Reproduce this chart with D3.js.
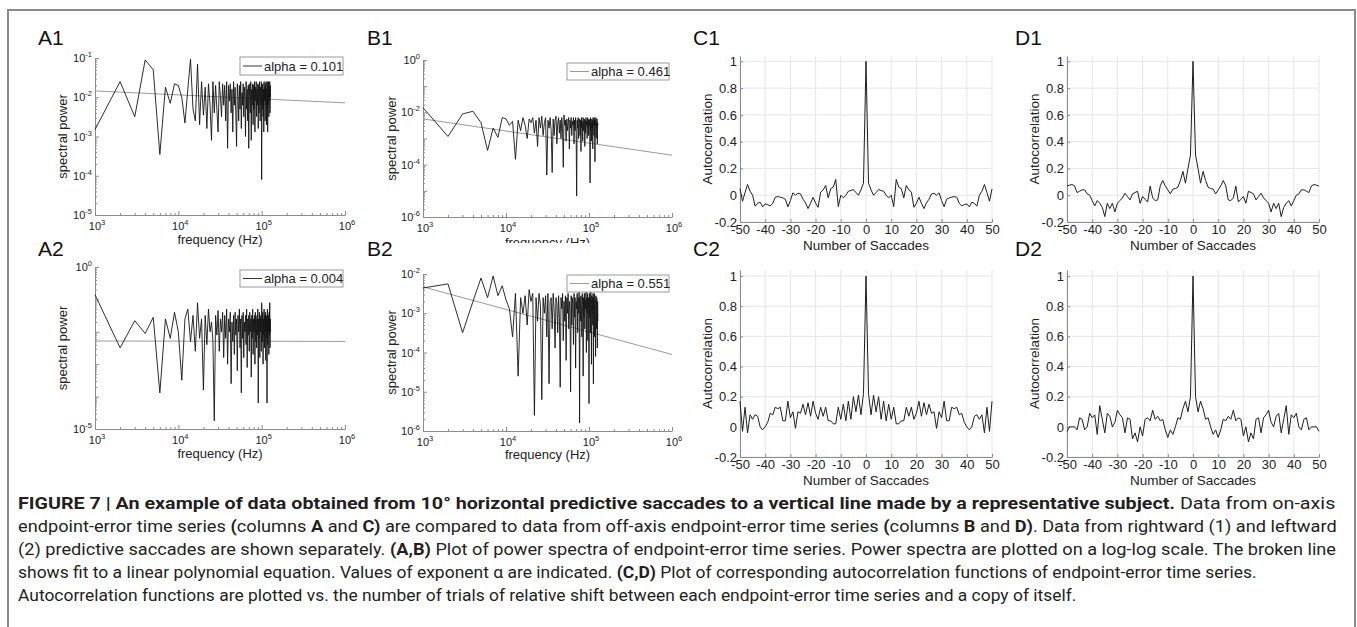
<!DOCTYPE html>
<html><head><meta charset="utf-8">
<script src="https://cdn.jsdelivr.net/npm/d3@7"></script>
<style>
body{margin:0;background:#fff}
svg{display:block}
text{font-family:"Liberation Sans",Arial,Helvetica,sans-serif}
</style>
</head><body>
<svg id="fig" width="1357" height="627"></svg>
<script>
// ---------------- DATA ----------------
const freqStepHz = 1000;          // spectral bin spacing
const nBins = 128;                // bins 1..128
const frequencies = d3.range(1, nBins + 1).map(k => k * freqStepHz);
const freqDomain = [1e3, 1e6];
const freqTicks = [1e3, 1e4, 1e5, 1e6];

const a1Power = [1.5e-3,2.5e-2,3.2e-3,8.9e-2,5e-2,3.5e-4,1.8e-2,7e-3,2.2e-2,2e-2,
 1e-2,2.2e-3,1.6e-2,9.3e-2,5e-3,2.5e-3,7e-2,2e-3,2.5e-2,3.5e-3,
 1.8e-2,1.6e-3,2.2e-2,6.3e-3,8e-4,2.5e-2,4e-3,2e-2,5e-3,1.3e-3,
 2.5e-2,1e-2,3.2e-3,2.2e-2,6.3e-3,2e-2,2.5e-3,2.5e-2,5e-4,2e-2,
 8e-3,2.2e-2,4e-3,1.6e-2,1.3e-3,2.5e-2,6.3e-3,1.8e-2,3.2e-3,5.6e-4,
 2.2e-2,1e-2,2.5e-3,2e-2,5e-3,2.5e-2,1.6e-3,1.3e-2,6.3e-3,2.2e-2,
 3.2e-3,1.8e-2,8e-3,1e-3,2.5e-2,5e-3,1.6e-2,2.5e-3,2e-2,5e-4,
 2.2e-2,1e-2,4e-3,2.5e-2,8e-4,1.6e-2,6.3e-3,2.2e-2,2e-3,2e-2,
 5e-3,2.5e-2,1.3e-3,1.8e-2,8e-3,2.5e-2,3.2e-3,1.6e-2,6.3e-3,2.2e-2,
 1.6e-3,2e-2,4e-3,2.5e-2,1e-2,2.5e-3,1.8e-2,6.3e-3,2.5e-2,8e-5,
 2e-2,5e-3,2.2e-2,3.2e-3,1.6e-2,1.3e-3,2.5e-2,8e-3,1.8e-2,2.5e-3,
 2.2e-2,6.3e-3,2.5e-2,2e-3,1.6e-2,5e-3,2.5e-2,1.3e-3,2e-2,6.3e-3,
 2.5e-2,3.2e-3,1.8e-2,8e-3,2.5e-2,4e-3,2e-2,1e-2];

const a2Power = [1.4e-1,3.2e-3,2.2e-2,8.9e-3,2.8e-2,1.3e-4,2.5e-2,6.3e-3,4e-2,1e-2,
 3.2e-4,2.5e-2,5e-2,5e-3,3.2e-2,2.5e-3,7.9e-2,6.3e-3,2.5e-2,1.6e-4,
 3.2e-2,4e-3,5e-2,1e-2,2e-2,5e-3,1.8e-5,3.2e-2,7.9e-3,4.5e-2,
 2.5e-3,2.5e-2,1e-2,4e-2,1.6e-3,3.2e-2,6.3e-3,5e-2,1e-3,2.5e-2,
 1e-2,4e-2,2.5e-4,2e-2,5e-3,3.2e-2,2e-3,4e-2,7.9e-3,2.5e-2,
 6.3e-4,3.2e-2,1e-2,5e-2,3.2e-3,2.5e-2,1.3e-4,3.2e-2,6.3e-3,4e-2,
 1.6e-3,2e-2,1e-2,3.2e-2,4e-3,5e-2,7.9e-4,2.5e-2,7.9e-3,3.2e-2,
 2.5e-3,4e-2,1e-2,2.5e-2,4e-4,3.2e-2,6.3e-3,5e-2,2e-3,2.5e-2,
 1e-2,3.2e-2,1e-3,4e-2,5e-3,2.5e-2,3.2e-3,3.2e-2,7.9e-3,5e-2,
 6.3e-5,2.5e-2,6.3e-3,4e-2,1.6e-3,3.2e-2,1e-2,2.5e-2,2.5e-3,7.9e-2,
 3.2e-2,5e-3,4e-2,1e-3,2.5e-2,7.9e-3,5e-2,3.2e-3,3.2e-2,1e-2,
 4e-2,1.3e-3,2.5e-2,6.3e-3,3.2e-2,6.3e-5,5e-2,4e-3,2.5e-2,1e-2,
 3.2e-2,2e-3,4e-2,7.9e-3,7.9e-2,3.2e-3,2.5e-2,1e-2];

const b1Power = [1.5e-2,1.2e-3,8.7e-3,1.1e-2,4e-3,3.5e-4,2.5e-3,1.1e-3,6.3e-3,5.6e-3,
 3.2e-3,4.5e-3,1.6e-4,5e-3,2e-3,6.3e-3,3.2e-3,1e-3,5.6e-3,4e-3,
 6.3e-3,1.6e-3,5e-3,5e-4,6.3e-3,2.5e-3,7.1e-3,1.3e-3,4e-3,6.3e-3,
 4e-5,5e-3,2.5e-3,6.3e-3,2e-3,5e-5,5.6e-3,1.3e-3,5e-3,7.1e-3,
 6.3e-4,4e-3,6.3e-3,1.6e-3,5e-3,1e-3,6.3e-3,2.5e-3,7.9e-5,7.9e-3,
 3.2e-3,5e-3,7.9e-4,5.6e-3,2e-3,4e-3,6.3e-3,4e-4,5e-3,2.5e-3,
 6.3e-3,1.3e-3,4.5e-3,3.2e-3,6.3e-3,6.3e-4,5e-3,2e-3,6.3e-3,1.6e-3,
 6.3e-6,5e-3,2.5e-3,6.3e-3,1e-3,4e-3,5.6e-3,1.3e-3,5e-3,3.2e-4,
 6.3e-3,2.5e-3,4.5e-3,7.9e-4,6.3e-3,2e-3,4e-3,5.6e-3,5e-4,5e-3,
 1.6e-3,6.3e-3,3.2e-3,4.5e-3,1e-3,6.3e-3,2.5e-3,5e-3,1.3e-3,5.6e-3,
 3.2e-3,5e-3,2e-5,6.3e-3,2e-3,4e-3,7.9e-4,5.6e-3,2.5e-3,5e-3,
 4e-4,6.3e-3,3.2e-3,4.5e-3,1.3e-3,6.3e-3,2.5e-3,1.3e-4,5e-3,3.2e-3,
 6.3e-3,1e-3,4e-3,2.5e-3,5.6e-3,6.3e-4,4e-3,3.2e-3];

const b2Power = [4.4e-3,5.6e-3,3.2e-4,2e-3,7.9e-3,2.5e-3,8.9e-3,2.8e-3,5e-3,2.2e-3,
 1.3e-3,2.5e-4,3.2e-3,2.5e-5,2.5e-3,1e-3,2.8e-3,5e-4,4e-3,2e-3,
 3.2e-3,2.5e-6,2.5e-3,6.3e-4,3.2e-3,1.6e-3,6.3e-6,2.5e-3,1e-3,2.8e-3,
 2.5e-4,3.2e-3,1.6e-5,2e-3,2.5e-3,4e-4,3.2e-3,1.3e-3,1.3e-4,2.5e-3,
 1.8e-3,3.2e-4,2.8e-3,7.9e-4,1.3e-5,2.5e-3,1.3e-3,3.2e-3,2e-4,2e-3,
 6.3e-4,2.8e-3,6.3e-5,2.5e-3,1e-3,3.2e-3,4e-4,2e-3,1.3e-3,1e-5,
 2.8e-3,5e-4,2.5e-3,1.6e-3,1.6e-4,3.2e-3,7.9e-4,2.5e-3,4e-5,2e-3,
 1.3e-3,3.2e-3,3.2e-4,2.5e-3,1e-3,3.5e-3,1.6e-6,2.5e-3,6.3e-4,2.8e-3,
 1.3e-3,2.5e-4,3.2e-3,1.6e-3,2.5e-5,2.5e-3,7.9e-4,3.2e-3,4e-4,2.2e-3,
 1.3e-3,3.5e-3,1e-4,2.5e-3,1e-3,3.2e-3,2e-4,2.5e-3,1.3e-3,5e-6,
 3.2e-3,7.9e-4,2.5e-3,3.2e-4,3.5e-3,1.6e-3,5e-5,2.8e-3,1e-3,2.5e-3,
 5e-4,3.2e-3,1.6e-5,2.5e-3,1.3e-3,3.2e-3,2.5e-4,2.2e-3,1e-3,7.9e-5,
 2.8e-3,1.6e-3,4e-4,2.5e-3,1.3e-3,1.3e-4,2e-3,6.3e-4];

// linear-polynomial fits (end points, frequency Hz / power)
const a1Fit = [[1e3, 1.45e-2], [1e6, 7.2e-3]];
const a2Fit = [[1e3, 5.2e-3], [1e6, 5.05e-3]];
const b1Fit = [[1e3, 5.6e-3], [1e6, 2.3e-4]];
const b2Fit = [[1e3, 4.7e-3], [1e6, 8.9e-5]];
const alphaLabels = ["alpha = 0.101", "alpha = 0.004", "alpha = 0.461", "alpha = 0.551"];

const a1YTicks = [1e-1, 1e-2, 1e-3, 1e-4, 1e-5];
const a2YTicks = [1e0, 1e-5];
const b1YTicks = [1e0, 1e-2, 1e-4, 1e-6];
const b2YTicks = [1e-2, 1e-3, 1e-4, 1e-5, 1e-6];

// autocorrelation, lags -50..50
const lags = d3.range(-50, 51);
const acfXTicks = [-50, -40, -30, -20, -10, 0, 10, 20, 30, 40, 50];
const acfYTicks = [-0.2, 0, 0.2, 0.4, 0.6, 0.8, 1];

const c1Acf = [0.048,-0.045,0.02,0.08,0.03,0.0,-0.082,-0.06,-0.052,-0.087,-0.065,-0.07,-0.08,-0.06,-0.015,-0.01,-0.015,-0.02,-0.03,-0.087,-0.04,0.018,0.0,0.015,0.01,-0.03,-0.057,-0.1,-0.06,-0.015,-0.06,-0.09,0.023,0.04,0.073,-0.02,0.05,0.06,0.118,-0.085,0.0,-0.02,0.0,0.03,0.035,0.043,0.02,0.0,0.04,0.09,
 1.0,
 0.09,0.04,0.0,0.02,0.043,0.035,0.03,0.0,-0.02,0.0,-0.085,0.118,0.06,0.05,-0.02,0.073,0.04,0.023,-0.09,-0.06,-0.015,-0.06,-0.1,-0.057,-0.03,0.01,0.015,0.0,0.018,-0.04,-0.087,-0.03,-0.02,-0.015,-0.01,-0.015,-0.06,-0.08,-0.07,-0.065,-0.087,-0.052,-0.06,-0.082,0.0,0.03,0.08,0.02,-0.045,0.048];

const c2Acf = [0.17,-0.03,0.13,-0.04,0.08,0.05,0.08,0.07,0.0,-0.02,0.0,0.03,0.09,0.08,0.13,0.12,0.13,0.04,0.04,0.17,0.06,0.1,-0.01,0.1,0.09,0.15,0.08,0.16,0.07,0.17,0.09,0.05,0.13,0.07,0.13,0.04,0.04,0.02,0.02,0.13,0.05,0.15,0.04,0.17,0.05,0.2,0.1,0.21,0.08,0.22,
 1.0,
 0.22,0.08,0.21,0.1,0.2,0.05,0.17,0.04,0.15,0.05,0.13,0.02,0.02,0.04,0.04,0.13,0.07,0.13,0.05,0.09,0.17,0.07,0.16,0.08,0.15,0.09,0.1,-0.01,0.1,0.06,0.17,0.04,0.04,0.13,0.12,0.13,0.08,0.09,0.03,0.0,-0.02,0.0,0.07,0.08,0.05,0.08,-0.04,0.13,-0.03,0.17];

const d1Acf = [0.068,0.075,0.08,0.07,0.02,0.03,0.04,0.04,0.01,0.0,-0.04,-0.08,-0.04,-0.06,-0.09,-0.16,-0.06,-0.1,-0.06,-0.125,-0.06,-0.04,-0.02,0.015,-0.01,-0.035,0.01,0.02,0.03,-0.06,-0.01,-0.03,-0.05,0.068,-0.02,-0.04,-0.035,0.07,0.11,0.07,0.04,0.01,0.045,0.05,0.06,0.11,0.178,0.09,0.2,0.3,
 1.0,
 0.3,0.2,0.09,0.178,0.11,0.06,0.05,0.045,0.01,0.04,0.07,0.11,0.07,-0.035,-0.04,-0.02,0.068,-0.05,-0.03,-0.01,-0.06,0.03,0.02,0.01,-0.035,-0.01,0.015,-0.02,-0.04,-0.06,-0.125,-0.06,-0.1,-0.06,-0.16,-0.09,-0.06,-0.04,-0.08,-0.04,0.0,0.01,0.04,0.04,0.03,0.02,0.07,0.08,0.075,0.068];

const d2Acf = [-0.03,0.0,0.0,0.0,-0.02,0.06,0.05,-0.02,0.0,0.09,0.06,0.08,-0.05,0.14,0.05,-0.04,0.09,0.07,0.0,0.03,0.11,0.08,0.06,-0.04,0.06,0.05,-0.08,-0.04,-0.1,0.0,-0.06,0.05,0.06,0.04,0.11,0.05,0.07,0.04,0.05,-0.02,-0.07,-0.02,-0.05,0.0,0.06,0.05,0.12,0.17,0.1,0.2,
 1.0,
 0.2,0.1,0.17,0.12,0.05,0.06,0.0,-0.05,-0.02,-0.07,-0.02,0.05,0.04,0.07,0.05,0.11,0.04,0.06,0.05,-0.06,0.0,-0.1,-0.04,-0.08,0.05,0.06,-0.04,0.06,0.08,0.11,0.03,0.0,0.07,0.09,-0.04,0.05,0.14,-0.05,0.08,0.06,0.09,0.0,-0.02,0.05,0.06,-0.02,0.0,0.0,0.0,-0.03];

const captionLines = [
 [["b","FIGURE 7 | An example of data obtained from 10° horizontal predictive saccades to a vertical line made by a representative subject."],["n"," Data from on-axis"]],
 [["n","endpoint-error time series "],["b","("],["n","columns "],["b","A"],["n"," and "],["b","C)"],["n"," are compared to data from off-axis endpoint-error time series "],["b","("],["n","columns "],["b","B"],["n"," and "],["b","D)"],["n",". Data from rightward (1) and leftward"]],
 [["n","(2) predictive saccades are shown separately. "],["b","(A,B)"],["n"," Plot of power spectra of endpoint-error time series. Power spectra are plotted on a log-log scale. The broken line"]],
 [["n","shows fit to a linear polynomial equation. Values of exponent α are indicated. "],["b","(C,D)"],["n"," Plot of corresponding autocorrelation functions of endpoint-error time series."]],
 [["n","Autocorrelation functions are plotted vs. the number of trials of relative shift between each endpoint-error time series and a copy of itself."]]
];

// ---------------- DRAW ----------------
const svg = d3.select("#fig");
const AXIS = "#8c8c8c";
const INK = "#222";

svg.append("path").attr("d", "M8,627 V10 H1355 V627")
  .attr("fill", "none").attr("stroke", "#8a8a8a").attr("stroke-width", 2);

function logMinor(domain) {
  const lo = Math.round(Math.log10(domain[0])), hi = Math.round(Math.log10(domain[1]));
  const out = [];
  for (let e = lo; e < hi; e++) for (let m = 2; m < 10; m++) out.push(m * Math.pow(10, e));
  return out;
}
function styleAxis(g) {
  g.selectAll(".domain").attr("stroke", AXIS);
  g.selectAll(".tick line").attr("stroke", AXIS);
}
function powLabel(g, x, y, v, anchor) {
  const t = g.append("text").attr("x", x).attr("y", y).attr("text-anchor", anchor)
    .attr("fill", INK).attr("font-size", 11);
  t.append("tspan").text("10");
  t.append("tspan").attr("dy", -5).attr("font-size", 7.5).text(String(Math.round(Math.log10(v))));
  return t;
}

const spectra = [
  {label: "A1", lx: 38, ly: 45, x0: 95, x1: 345, yTop: 58, yBot: 215, yDom: [1e-5, 1e-1], yTicks: a1YTicks,
   data: a1Power, fit: a1Fit, alpha: alphaLabels[0], leg: [240, 57, 103, 18], legInk: "#333", ylx: 67, xly: 244},
  {label: "A2", lx: 38, ly: 256, x0: 95, x1: 345, yTop: 267, yBot: 429, yDom: [1e-5, 1e0], yTicks: a2YTicks,
   data: a2Power, fit: a2Fit, alpha: alphaLabels[1], leg: [240, 270, 103, 17], legInk: "#333", ylx: 67, xly: 458},
  {label: "B1", lx: 367, ly: 45, x0: 423, x1: 672, yTop: 60, yBot: 217, yDom: [1e-6, 1e0], yTicks: b1YTicks,
   data: b1Power, fit: b1Fit, alpha: alphaLabels[2], leg: [567, 63, 102, 17], legInk: "#999", ylx: 396, xly: 247, clipY: 243},
  {label: "B2", lx: 367, ly: 256, x0: 423, x1: 672, yTop: 274, yBot: 431, yDom: [1e-6, 1e-2], yTicks: b2YTicks,
   data: b2Power, fit: b2Fit, alpha: alphaLabels[3], leg: [567, 275, 102, 17], legInk: "#999", ylx: 396, xly: 459}
];

spectra.forEach((p, idx) => {
  const g = svg.append("g");
  const x = d3.scaleLog().domain(freqDomain).range([p.x0, p.x1]);
  const y = d3.scaleLog().domain(p.yDom).range([p.yBot, p.yTop]);

  const gx = g.append("g").attr("transform", `translate(0,${p.yBot})`)
    .call(d3.axisBottom(x).tickValues(freqTicks).tickSize(-4).tickSizeOuter(0).tickFormat(""));
  const gxm = g.append("g").attr("transform", `translate(0,${p.yBot})`)
    .call(d3.axisBottom(x).tickValues(logMinor(freqDomain)).tickSize(-2).tickSizeOuter(0).tickFormat(""));
  gxm.select(".domain").remove();
  const yMajors = d3.range(Math.round(Math.log10(p.yDom[0])), Math.round(Math.log10(p.yDom[1])) + 1).map(e => Math.pow(10, e));
  const gy = g.append("g").attr("transform", `translate(${p.x0},0)`)
    .call(d3.axisLeft(y).tickValues(yMajors).tickSize(-4).tickSizeOuter(0).tickFormat(""));
  const gym = g.append("g").attr("transform", `translate(${p.x0},0)`)
    .call(d3.axisLeft(y).tickValues(logMinor(p.yDom)).tickSize(-2).tickSizeOuter(0).tickFormat(""));
  gym.select(".domain").remove();
  [gx, gxm, gy, gym].forEach(styleAxis);

  freqTicks.forEach(v => powLabel(g, x(v) + 2, p.yBot + 15, v, "middle"));
  p.yTicks.forEach(v => powLabel(g, p.x0 - 3, y(v) + 4, v, "end"));

  // fit line
  g.append("path").datum(p.fit)
    .attr("d", d3.line().x(d => x(d[0])).y(d => y(d[1])))
    .attr("fill", "none").attr("stroke", "#9a9a9a").attr("stroke-width", 1);
  // spectrum
  g.append("path").datum(frequencies.map((f, i) => [f, p.data[i]]))
    .attr("d", d3.line().x(d => x(d[0])).y(d => y(d[1])))
    .attr("fill", "none").attr("stroke", "#151515").attr("stroke-width", 0.9).attr("stroke-linejoin", "miter");

  // legend
  const [lx, ly, lw, lh] = p.leg;
  g.append("rect").attr("x", lx).attr("y", ly).attr("width", lw).attr("height", lh)
    .attr("fill", "#fff").attr("stroke", "#9a9a9a").attr("stroke-width", 1);
  g.append("line").attr("x1", lx + 3).attr("x2", lx + 22).attr("y1", ly + lh / 2).attr("y2", ly + lh / 2)
    .attr("stroke", p.legInk).attr("stroke-width", 1);
  g.append("text").attr("x", lx + 24).attr("y", ly + lh / 2 + 4.5).attr("font-size", 13).attr("fill", INK).text(p.alpha);

  // axis titles
  g.append("text").attr("transform", `translate(${p.ylx},${(p.yTop + p.yBot) / 2}) rotate(-90)`)
    .attr("text-anchor", "middle").attr("font-size", 13).attr("fill", INK).text("spectral power");
  const xl = g.append("text").attr("x", (p.x0 + p.x1) / 2).attr("y", p.xly)
    .attr("text-anchor", "middle").attr("font-size", 13).attr("fill", INK).text("frequency (Hz)");
  if (p.clipY) {
    const id = "clipB1x";
    svg.append("clipPath").attr("id", id).append("rect").attr("x", 0).attr("y", 0).attr("width", 1357).attr("height", p.clipY);
    xl.attr("clip-path", `url(#${id})`);
  }
  // panel label
  svg.append("text").attr("x", p.lx).attr("y", p.ly).attr("font-size", 21).attr("fill", "#111").text(p.label);
});

const acfPanels = [
  {label: "C1", lx: 693, ly: 45, x0: 740, x1: 992, yTop: 56, yBot: 222, data: c1Acf},
  {label: "C2", lx: 693, ly: 256, x0: 740, x1: 992, yTop: 270, yBot: 457, data: c2Acf},
  {label: "D1", lx: 1015, ly: 45, x0: 1067, x1: 1319, yTop: 56, yBot: 222, data: d1Acf},
  {label: "D2", lx: 1015, ly: 256, x0: 1067, x1: 1319, yTop: 270, yBot: 457, data: d2Acf}
];
const acfYMax = 1.04;

acfPanels.forEach(p => {
  const g = svg.append("g");
  const x = d3.scaleLinear().domain([-50, 50]).range([p.x0, p.x1]);
  const y = d3.scaleLinear().domain([-0.2, acfYMax]).range([p.yBot, p.yTop]);
  // grid
  g.append("g").selectAll("line").data(acfXTicks).join("line")
    .attr("x1", d => x(d)).attr("x2", d => x(d)).attr("y1", p.yTop).attr("y2", p.yBot)
    .attr("stroke", "#e6e6e6").attr("stroke-width", 1);
  g.append("g").selectAll("line").data(acfYTicks).join("line")
    .attr("x1", p.x0).attr("x2", p.x1).attr("y1", d => y(d)).attr("y2", d => y(d))
    .attr("stroke", "#e6e6e6").attr("stroke-width", 1);
  const gx = g.append("g").attr("transform", `translate(0,${p.yBot})`)
    .call(d3.axisBottom(x).tickValues(acfXTicks).tickSize(-3).tickSizeOuter(0).tickPadding(3).tickFormat(d => String(d)));
  const gy = g.append("g").attr("transform", `translate(${p.x0},0)`)
    .call(d3.axisLeft(y).tickValues(acfYTicks).tickSize(-3).tickSizeOuter(0).tickPadding(3).tickFormat(d => String(+d.toFixed(1))));
  [gx, gy].forEach(a => {
    styleAxis(a);
    a.selectAll("text").attr("font-size", 13).attr("fill", INK).attr("font-family", '"Liberation Sans", Arial, sans-serif');
  });
  g.append("path").datum(lags.map((l, i) => [l, p.data[i]]))
    .attr("d", d3.line().x(d => x(d[0])).y(d => y(d[1])))
    .attr("fill", "none").attr("stroke", "#1e1e1e").attr("stroke-width", 1);
  g.append("text").attr("transform", `translate(${p.x0 - 28},${(p.yTop + p.yBot) / 2}) rotate(-90)`)
    .attr("text-anchor", "middle").attr("font-size", 13.5).attr("fill", INK).text("Autocorrelation");
  g.append("text").attr("x", (p.x0 + p.x1) / 2).attr("y", p.yBot + 28)
    .attr("text-anchor", "middle").attr("font-size", 13.5).attr("fill", INK).text("Number of Saccades");
  svg.append("text").attr("x", p.lx).attr("y", p.ly).attr("font-size", 21).attr("fill", "#111").text(p.label);
});

// caption
const capLeft = 18;
const capBaselines = [509, 532, 555, 578, 601];
const capRight = [1337, 1337, 1337, 1257, 1077];
captionLines.forEach((parts, i) => {
  const t = svg.append("text").attr("x", 0).attr("y", 0)
    .attr("font-size", 16.5).attr("fill", "#231f20").style("font-family", "Roboto, 'Liberation Sans', sans-serif");
  parts.forEach(([w, s]) => {
    t.append("tspan").attr("font-weight", w === "b" ? 700 : 400).text(s);
  });
  const wdt = t.node().getComputedTextLength();
  const sx = (capRight[i] - capLeft) / wdt;
  t.attr("transform", `translate(${capLeft},${capBaselines[i]}) scale(${sx},1)`);
});
</script>
</body></html>
